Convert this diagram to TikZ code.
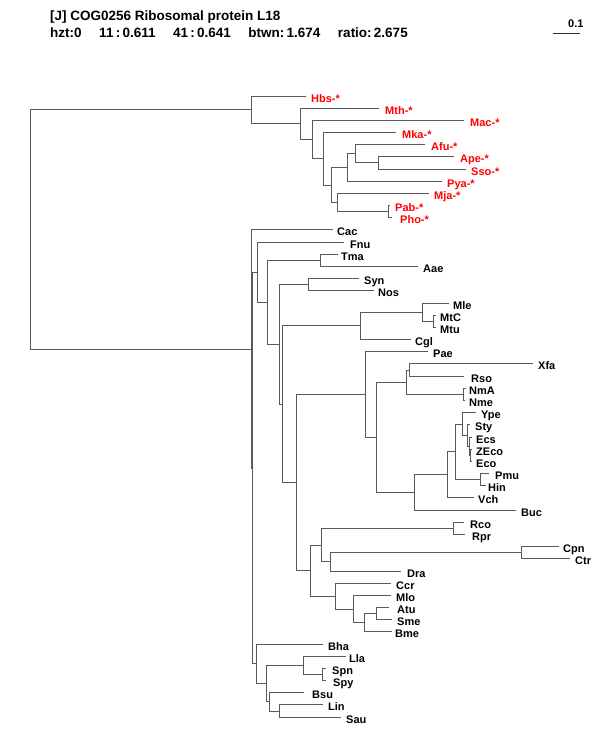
\documentclass[tikz,border=0pt]{standalone}
\usepackage{fontspec}
\setmainfont{Liberation Sans}
\newcommand\ly[1]{floor(96+12.18*(#1))+0.5}
\newcommand\leaf[6]{%
  \coordinate (#1) at ({#3+0.5},{\ly{#2}});
  \node[lab,text=#6] (#1-l) at (#4,{\ly{#2}+5.5}) {#5};}
\newcommand\inode[3]{\coordinate (#1) at ({#2+0.5},{\ly{#3}});}
\newcommand\kids[3]{\draw[br] (#2) -| (#1) |- (#3);}
\begin{document}
\begin{tikzpicture}[x=1pt,y=-1pt,
  lab/.style={anchor=base west,inner sep=0pt,font=\bfseries\fontsize{11}{13}\selectfont},
  br/.style={draw=black!65,line width=1.2pt},
  ttl/.style={anchor=base west,inner sep=0pt,font=\bfseries\fontsize{13.5}{15}\selectfont}]
\useasboundingbox (0,0) rectangle (600,750);
% header
\node[ttl] (t1) at (50,20) {[J] COG0256 Ribosomal protein L18};
\node[ttl] (t2) at (50,37) {hzt:0\hspace{1.3em}11\,:\,0.611\hspace{1.3em}41\,:\,0.641\hspace{1.3em}btwn:\,1.674\hspace{1.3em}ratio:\,2.675};
\coordinate (s1) at (553,33.5);
\coordinate (s2) at (580,33.5);
\draw[black!80,line width=1.2pt] (s1) -- (s2);
\node[lab] (sl) at (568,27) {0.1};
% leaves: name idx endx labx text color
\leaf{Hbs}{0}{305}{311}{Hbs-*}{red}
\leaf{Mth}{1}{378}{385}{Mth-*}{red}
\leaf{Mac}{2}{463}{470}{Mac-*}{red}
\leaf{Mka}{3}{395}{402}{Mka-*}{red}
\leaf{Afu}{4}{424}{431}{Afu-*}{red}
\leaf{Ape}{5}{453}{460}{Ape-*}{red}
\leaf{Sso}{6}{465}{471}{Sso-*}{red}
\leaf{Pya}{7}{441}{447}{Pya-*}{red}
\leaf{Mja}{8}{428}{434}{Mja-*}{red}
\leaf{Pab}{9}{389}{395}{Pab-*}{red}
\leaf{Pho}{10}{391}{400}{Pho-*}{red}
\leaf{Cac}{11}{332}{337}{Cac}{black}
\leaf{Fnu}{12}{343}{350}{Fnu}{black}
\leaf{Tma}{13}{337}{341}{Tma}{black}
\leaf{Aae}{14}{417}{423}{Aae}{black}
\leaf{Syn}{15}{358}{364}{Syn}{black}
\leaf{Nos}{16}{373}{378}{Nos}{black}
\leaf{Mle}{17}{448}{453}{Mle}{black}
\leaf{MtC}{18}{435}{440}{MtC}{black}
\leaf{Mtu}{19}{435}{440}{Mtu}{black}
\leaf{Cgl}{20}{410}{415}{Cgl}{black}
\leaf{Pae}{21}{427}{433}{Pae}{black}
\leaf{Xfa}{22}{532}{538}{Xfa}{black}
\leaf{Rso}{23}{463}{471}{Rso}{black}
\leaf{NmA}{24}{465}{469}{NmA}{black}
\leaf{Nme}{25}{464}{469}{Nme}{black}
\leaf{Ype}{26}{475}{481}{Ype}{black}
\leaf{Sty}{27}{469}{475}{Sty}{black}
\leaf{Ecs}{28}{471}{476}{Ecs}{black}
\leaf{ZEco}{29}{471}{476}{ZEco}{black}
\leaf{Eco}{30}{471}{476}{Eco}{black}
\leaf{Pmu}{31}{488}{495}{Pmu}{black}
\leaf{Hin}{32}{485}{488}{Hin}{black}
\leaf{Vch}{33}{473}{478}{Vch}{black}
\leaf{Buc}{34}{515}{521}{Buc}{black}
\leaf{Rco}{35}{463}{470}{Rco}{black}
\leaf{Rpr}{36}{464}{472}{Rpr}{black}
\leaf{Cpn}{37}{558}{563}{Cpn}{black}
\leaf{Ctr}{38}{569}{575}{Ctr}{black}
\leaf{Dra}{39}{400}{407}{Dra}{black}
\leaf{Ccr}{40}{390}{396}{Ccr}{black}
\leaf{Mlo}{41}{390}{396}{Mlo}{black}
\leaf{Atu}{42}{388}{397}{Atu}{black}
\leaf{Sme}{43}{391}{397}{Sme}{black}
\leaf{Bme}{44}{391}{395}{Bme}{black}
\leaf{Bha}{45}{322}{328}{Bha}{black}
\leaf{Lla}{46}{345}{349}{Lla}{black}
\leaf{Spn}{47}{325}{332}{Spn}{black}
\leaf{Spy}{48}{325}{333}{Spy}{black}
\leaf{Bsu}{49}{303}{312}{Bsu}{black}
\leaf{Lin}{50}{322}{328}{Lin}{black}
\leaf{Sau}{51}{340}{346}{Sau}{black}
% internal nodes: name x idx
\inode{G}{378}{5.5}
\inode{F}{355}{4.75}
\inode{E}{347}{5.875}
\inode{I}{388}{9.5}
\inode{H}{337}{8.75}
\inode{D}{331}{7.3125}
\inode{C}{323}{5.156}
\inode{B}{312}{3.578}
\inode{A}{300}{2.289}
\inode{RA}{251}{1.145}
\inode{TA}{320}{13.5}
\inode{SN}{308}{15.5}
\inode{R}{433}{18.5}
\inode{S}{422}{17.75}
\inode{T}{360}{18.875}
\inode{M}{409}{22.5}
\inode{NN}{463}{24.5}
\inode{N}{406}{23.5}
\inode{EZ}{470}{29.5}
\inode{ES}{469}{28.75}
\inode{EC}{467}{27.875}
\inode{I2}{462}{26.9375}
\inode{PH}{480}{31.5}
\inode{J}{455}{29.21875}
\inode{K}{447}{31.109}
\inode{L}{414}{32.555}
\inode{O}{376}{28.027}
\inode{P}{365}{24.514}
\inode{RR}{453}{35.5}
\inode{CC}{521}{37.5}
\inode{Q5}{330}{38.25}
\inode{Q3}{321}{36.875}
\inode{Q8}{376}{42.5}
\inode{Q7}{364}{43.25}
\inode{Q6}{353}{42.125}
\inode{Q4}{335}{41.0625}
\inode{Q2}{310}{38.969}
\inode{Q}{296}{31.741}
\inode{U}{282}{25.308}
\inode{V}{279}{20.404}
\inode{W}{267}{16.952}
\inode{Y}{257}{14.476}
\inode{SS}{322}{47.5}
\inode{LS}{303}{46.75}
\inode{LI}{279}{50.5}
\inode{Z3}{269}{49.75}
\inode{Z2}{266}{48.25}
\inode{Z}{256}{46.625}
\inode{X}{252}{30.55}
\inode{BK}{251}{20.775}
\inode{R0}{30}{10.96}
% edges
\kids{G}{Ape}{Sso}
\kids{F}{Afu}{G}
\kids{E}{F}{Pya}
\kids{I}{Pab}{Pho}
\kids{H}{Mja}{I}
\kids{D}{E}{H}
\kids{C}{Mka}{D}
\kids{B}{Mac}{C}
\kids{A}{Mth}{B}
\kids{RA}{Hbs}{A}
\kids{TA}{Tma}{Aae}
\kids{SN}{Syn}{Nos}
\kids{R}{MtC}{Mtu}
\kids{S}{Mle}{R}
\kids{T}{S}{Cgl}
\kids{M}{Xfa}{Rso}
\kids{NN}{NmA}{Nme}
\kids{N}{M}{NN}
\kids{EZ}{ZEco}{Eco}
\kids{ES}{Ecs}{EZ}
\kids{EC}{Sty}{ES}
\kids{I2}{Ype}{EC}
\kids{PH}{Pmu}{Hin}
\kids{J}{I2}{PH}
\kids{K}{J}{Vch}
\kids{L}{K}{Buc}
\kids{O}{N}{L}
\kids{P}{Pae}{O}
\kids{RR}{Rco}{Rpr}
\kids{CC}{Cpn}{Ctr}
\kids{Q5}{CC}{Dra}
\kids{Q3}{RR}{Q5}
\kids{Q8}{Atu}{Sme}
\kids{Q7}{Q8}{Bme}
\kids{Q6}{Mlo}{Q7}
\kids{Q4}{Ccr}{Q6}
\kids{Q2}{Q3}{Q4}
\kids{Q}{P}{Q2}
\kids{U}{T}{Q}
\kids{V}{SN}{U}
\kids{W}{TA}{V}
\kids{Y}{Fnu}{W}
\kids{SS}{Spn}{Spy}
\kids{LS}{Lla}{SS}
\kids{LI}{Lin}{Sau}
\kids{Z3}{Bsu}{LI}
\kids{Z2}{LS}{Z3}
\kids{Z}{Bha}{Z2}
\kids{X}{Y}{Z}
\kids{BK}{Cac}{X}
\kids{R0}{RA}{BK}
\end{tikzpicture}
\end{document}
